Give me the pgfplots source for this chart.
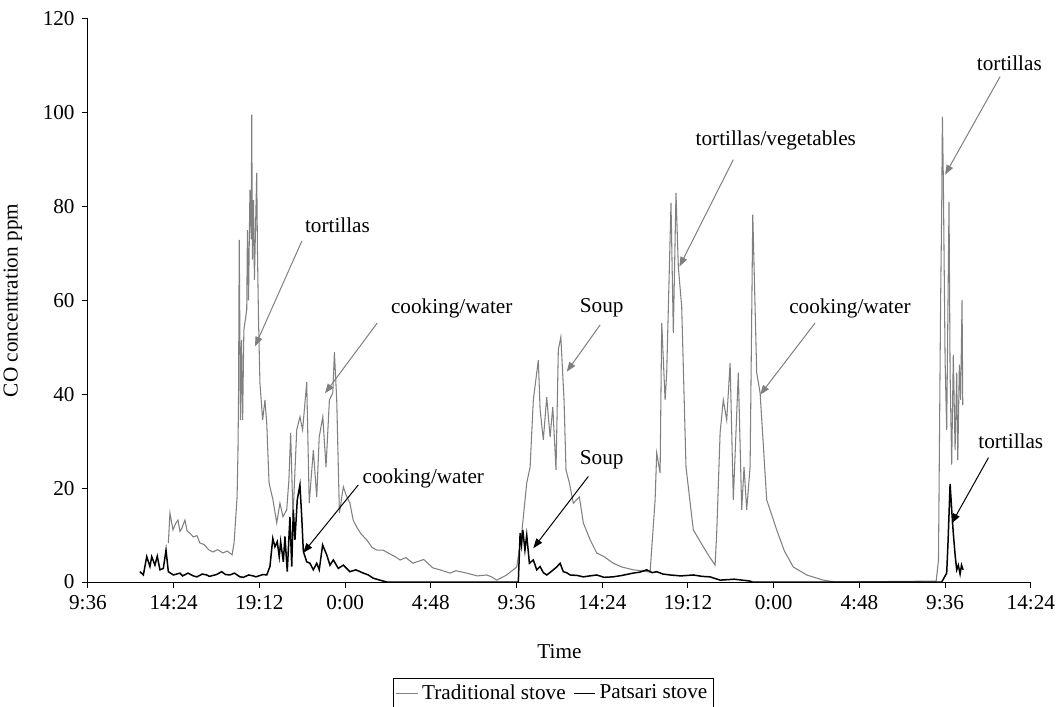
\documentclass[border=0pt]{standalone}
\usepackage{fontspec}
\setmainfont{Liberation Serif}
\usepackage{pgfplots}
\pgfplotsset{compat=1.18}
\usetikzlibrary{arrows.meta}
\definecolor{tradgray}{RGB}{128,128,128}
\begin{document}
\fontsize{12}{14.4}\selectfont
\begin{tikzpicture}
\begin{axis}[
  at={(0,0)}, anchor=south west,
  scale only axis, width=533.6pt, height=318.7pt,
  xmin=9.6, xmax=62.4, ymin=0, ymax=120,
  clip=false,
  axis x line*=bottom, axis y line*=left,
  axis line style={line width=0.57pt, black},
  xtick={9.6,14.4,19.2,24,28.8,33.6,38.4,43.2,48,52.8,57.6,62.4},
  xticklabels={9:36,14:24,19:12,0:00,4:48,9:36,14:24,19:12,0:00,4:48,9:36,14:24},
  ytick={0,20,40,60,80,100,120},
  tick align=outside, major tick length=3.4pt,
  tick style={line width=0.57pt, black},
  /pgf/number format/assume math mode=true,
  xlabel={Time}, ylabel={CO concentration ppm},
  xlabel style={at={(axis description cs:0.5,-0.1236)}, anchor=center},
  ylabel style={at={(axis description cs:-0.0797,0.5)}, anchor=center},
  legend style={at={(axis description cs:0.4936,-0.1701)}, anchor=north,
    draw=black, line width=0.57pt, legend columns=2,
    inner xsep=1.5pt, inner ysep=1.5pt,
    /tikz/every even column/.append style={column sep=2pt},
    font=\fontsize{12}{14.4}\selectfont},
  legend image code/.code={\draw[#1] (0pt,0pt) -- (12.3pt,0pt);},
]
\addplot[tradgray, line width=0.6pt] coordinates {
(14.10,8.3) (14.19,14.7) (14.36,11.1) (14.50,12.4) (14.64,13.2) (14.75,10.8) (14.86,11.5) (15.03,13.2) (15.15,10.9) (15.31,10.4) (15.50,9.6) (15.70,9.9) (15.87,8.3) (16.10,8.0) (16.35,6.9) (16.60,6.4) (16.85,6.9) (17.16,6.2) (17.40,6.6) (17.67,5.8) (17.78,8.3) (17.95,18.1) (18.00,28.1) (18.03,38.8) (18.07,72.9) (18.14,34.5) (18.20,51.6) (18.26,34.5) (18.33,53.7) (18.49,58) (18.53,75) (18.59,60) (18.67,83.6) (18.74,73) (18.77,99.6) (18.81,68.7) (18.87,81.4) (18.92,64.4) (19.05,87.2) (19.09,70.8) (19.15,55.9) (19.23,42.4) (19.38,34.5) (19.51,38.8) (19.61,33.9) (19.74,21.1) (19.96,17.5) (20.17,12.6) (20.35,16.8) (20.52,13.9) (20.73,15.4) (20.85,21.7) (20.95,31.8) (21.08,13.9) (21.29,32.4) (21.47,35.2) (21.62,32.4) (21.85,42.6) (21.99,16.8) (22.22,28.1) (22.41,18.1) (22.55,30.9) (22.75,35.2) (22.93,24.5) (23.12,38.8) (23.31,40.3) (23.40,49.0) (23.53,38.8) (23.68,14.7) (23.90,20.3) (24.05,18.6) (24.27,16.8) (24.45,13.2) (24.65,11.7) (24.90,10.2) (25.21,9.0) (25.50,7.4) (25.77,6.8) (26.12,6.8) (26.50,6.0) (26.80,5.4) (27.08,4.7) (27.40,5.2) (27.80,4.0) (28.01,4.3) (28.40,4.8) (28.92,3.0) (29.30,2.6) (29.88,1.9) (30.20,2.4) (30.81,1.9) (31.40,1.3) (31.93,1.5) (32.20,1.1) (32.49,0.4) (33.05,1.5) (33.61,3.2) (33.89,10.4) (34.17,21.1) (34.36,24.5) (34.54,38.8) (34.82,47.3) (34.92,36.7) (35.10,30.3) (35.29,39.4) (35.48,30.9) (35.63,37.3) (35.81,23.9) (35.94,49.5) (36.08,52.2) (36.26,38.8) (36.37,23.9) (36.56,21.1) (36.78,16.8) (37.12,18.1) (37.34,12.6) (37.72,9.0) (38.09,6.2) (38.50,5.4) (39.02,4.0) (39.50,3.2) (40.14,2.6) (40.60,2.4) (41.08,2.1) (41.36,17.5) (41.45,27.5) (41.64,23.2) (41.73,55.2) (41.92,38.8) (42.01,44.6) (42.25,80.8) (42.38,53.1) (42.53,82.9) (42.66,67.2) (42.85,58.6) (43.09,24.5) (43.50,11.1) (44.06,7.5) (44.40,5.4) (44.72,3.6) (44.81,10.4) (45.00,31.8) (45.18,38.8) (45.37,34.5) (45.56,46.7) (45.74,17.5) (46.02,44.6) (46.21,15.4) (46.34,24.5) (46.49,15.4) (46.68,24.5) (46.83,78.3) (47.05,44.6) (47.24,40.3) (47.61,17.5) (48.17,11.1) (48.60,6.6) (49.10,3.2) (49.85,1.5) (50.78,0.4) (51.5,0) (57.10,0.2) (57.23,4.7) (57.35,60) (57.41,79.3) (57.45,99.2) (57.50,86.4) (57.60,47.3) (57.69,32.4) (57.82,81) (57.88,44.6) (57.97,25) (58.06,48.4) (58.16,28.1) (58.25,44.6) (58.31,26) (58.40,46.3) (58.47,38.8) (58.55,60.1) (58.59,37.7)
};
\addlegendentry{Traditional stove}
\addplot[black, line width=0.85pt] coordinates {
(12.51,2.2) (12.70,1.5) (12.89,5.4) (13.07,3.3) (13.17,5.4) (13.35,3.6) (13.48,5.5) (13.63,2.6) (13.82,2.9) (13.97,6.8) (14.10,2.2) (14.38,1.5) (14.75,1.9) (14.90,1.3) (15.20,1.9) (15.50,1.3) (15.70,1.1) (16.00,1.7) (16.25,1.5) (16.40,1.2) (16.80,1.6) (17.09,2.2) (17.30,1.6) (17.55,1.5) (17.80,1.9) (18.11,1.1) (18.30,1.0) (18.60,1.5) (18.86,1.3) (19.00,1.1) (19.40,1.6) (19.61,1.5) (19.79,3.3) (19.95,9.3) (20.07,7.5) (20.20,8.6) (20.31,5.4) (20.39,8.6) (20.54,4.3) (20.63,9.7) (20.76,2.2) (20.91,13.9) (21.01,3.3) (21.10,15.4) (21.19,9.0) (21.32,17.5) (21.47,20.7) (21.57,13.9) (21.66,6.5) (21.85,4.3) (22.03,4.0) (22.22,2.6) (22.41,4.0) (22.55,2.6) (22.74,7.9) (22.97,5.8) (23.15,3.6) (23.34,4.7) (23.62,2.9) (23.90,3.6) (24.27,2.2) (24.60,2.6) (25.02,1.9) (25.30,1.5) (25.58,0.8) (25.95,0.4) (26.33,0) (33.70,0) (33.80,10.4) (33.88,7.9) (33.95,11.1) (34.07,6.8) (34.17,10.0) (34.32,4.0) (34.54,4.7) (34.73,2.6) (34.92,3.3) (35.10,2.0) (35.29,1.5) (35.50,2.1) (35.66,2.6) (35.85,3.2) (36.04,4.0) (36.22,2.2) (36.40,2.0) (36.60,1.5) (37.00,1.4) (37.34,1.1) (37.70,1.3) (38.09,1.5) (38.50,1.0) (39.01,1.1) (39.50,1.4) (40.13,1.9) (40.50,2.1) (40.89,2.6) (41.20,2.0) (41.45,2.2) (41.80,1.7) (42.20,1.5) (42.80,1.3) (43.50,1.5) (44.00,1.2) (44.44,1.1) (45.00,0.4) (45.80,0.6) (46.68,0.2) (46.8,0) (57.41,0) (57.69,1.9) (57.77,9) (57.88,20.9) (57.97,15.4) (58.06,10.4) (58.16,5.8) (58.25,2.6) (58.34,3.6) (58.44,1.7) (58.52,3.6) (58.61,2.6)
};
\addlegendentry{Patsari stove}
% annotations
\draw[tradgray, line width=0.57pt, -{Triangle[length=5.5pt,width=4pt]}] (21.57,72.6) -- (18.95,50.2);
\node at (23.57,76.1) {tortillas};
\draw[tradgray, line width=0.57pt, -{Triangle[length=5.5pt,width=4pt]}] (25.80,55.2) -- (22.87,40.2);
\node at (29.97,58.4) {cooking/water};
\draw[black, line width=0.57pt, -{Triangle[length=5.5pt,width=4pt]}] (24.74,20.7) -- (21.65,6.2);
\node at (28.38,22.1) {cooking/water};
\draw[tradgray, line width=0.57pt, -{Triangle[length=5.5pt,width=4pt]}] (38.28,54.8) -- (36.41,44.8);
\node at (38.37,58.4) {Soup};
\draw[black, line width=0.57pt, -{Triangle[length=5.5pt,width=4pt]}] (37.62,22.5) -- (34.54,7.2);
\node at (38.37,26.0) {Soup};
\draw[tradgray, line width=0.57pt, -{Triangle[length=5.5pt,width=4pt]}] (45.74,90.0) -- (42.72,67.2);
\node at (48.12,94.2) {tortillas/vegetables};
\draw[tradgray, line width=0.57pt, -{Triangle[length=5.5pt,width=4pt]}] (50.32,55.2) -- (47.24,39.9);
\node at (52.27,58.4) {cooking/water};
\draw[tradgray, line width=0.57pt, -{Triangle[length=5.5pt,width=4pt]}] (60.68,107.7) -- (57.60,86.8);
\node at (61.20,110.5) {tortillas};
\draw[black, line width=0.57pt, -{Triangle[length=5.5pt,width=4pt]}] (60.03,26.5) -- (57.97,12.5);
\node at (61.28,30.0) {tortillas};
\end{axis}
\pgfresetboundingbox
\path[use as bounding box] (-49.8pt,-70.2pt) rectangle (549.0pt,329.4pt);
\end{tikzpicture}
\end{document}
